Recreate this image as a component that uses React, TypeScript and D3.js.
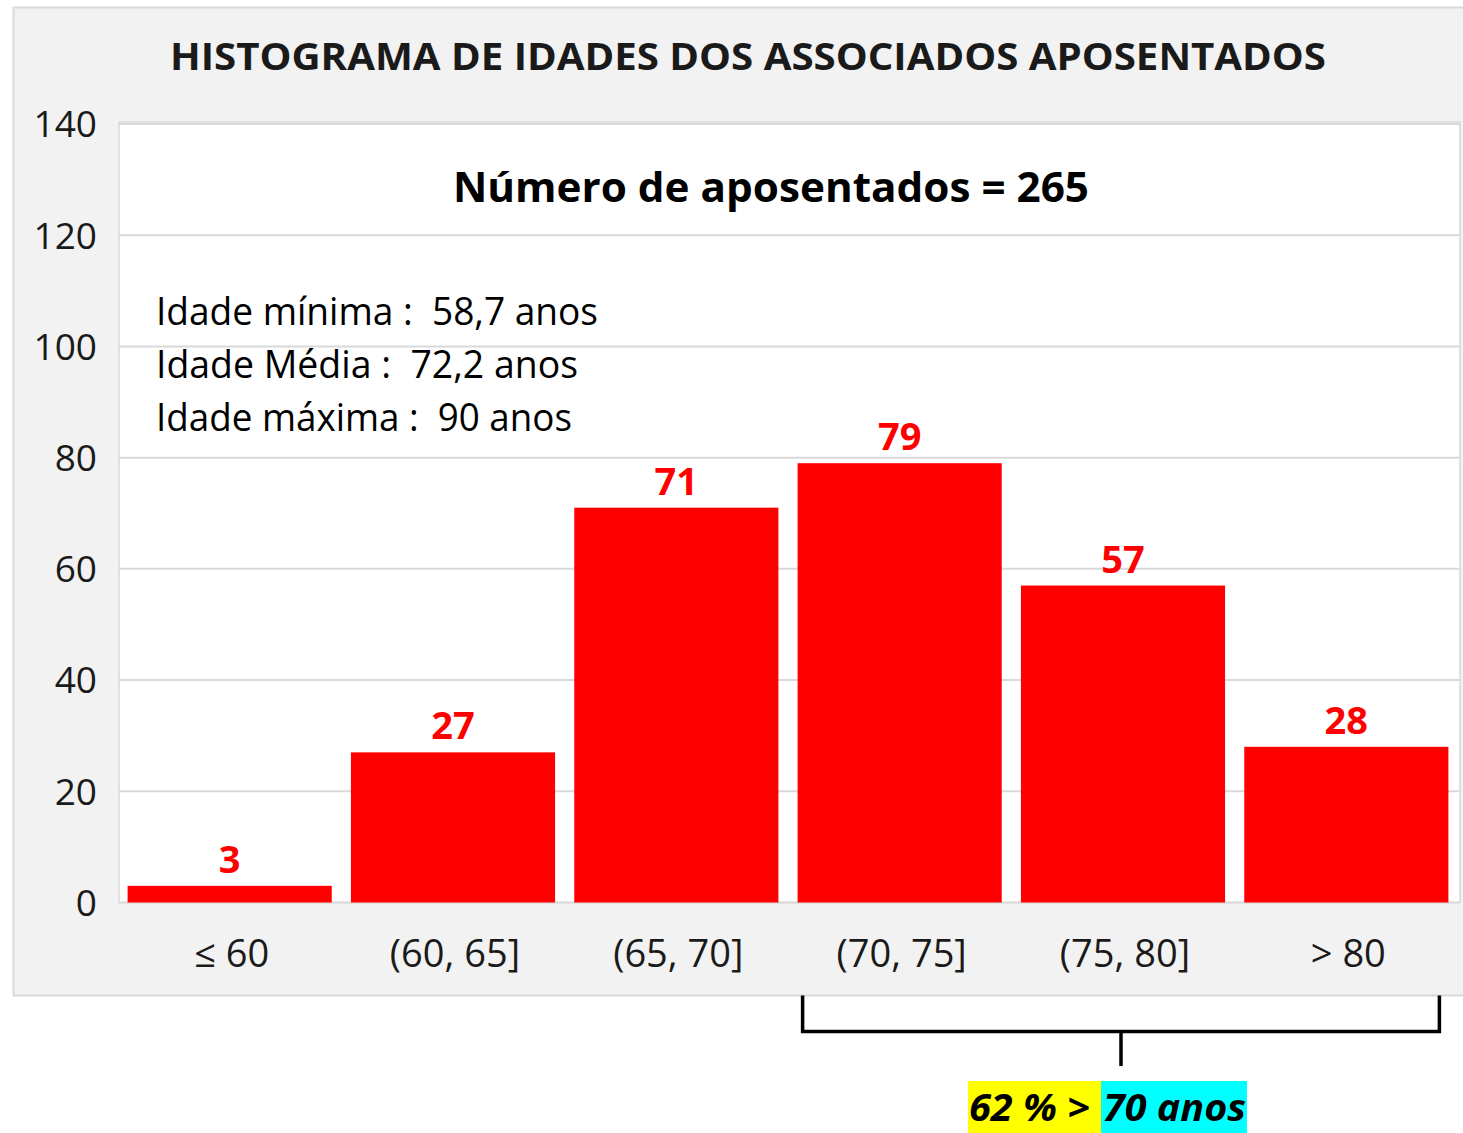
import React from "react";
import * as d3 from "d3";

const categories = ["≤ 60", "(60, 65]", "(65, 70]", "(70, 75]", "(75, 80]", "> 80"];
const counts = [3, 27, 71, 79, 57, 28];
const yTicks = [0, 20, 40, 60, 80, 100, 120, 140];
const title = "HISTOGRAMA DE IDADES DOS ASSOCIADOS APOSENTADOS";
const subtitle = "Número de aposentados = 265";
const infoLines = ["Idade mínima :  58,7 anos", "Idade Média :  72,2 anos", "Idade máxima :  90 anos"];
const infoWidths = [442, 422, 416];
const noteLeft = "62 % >";
const noteRight = "70 anos";

const W = 1463;
const H = 1133;
const FONT = "'Open Sans', 'Noto Sans', sans-serif";

export default function App() {
  const plot = { left: 119, right: 1460, top: 124, bottom: 902.5 };
  const x = d3
    .scaleBand<string>()
    .domain(categories)
    .range([plot.left - 1, plot.right - 2])
    .paddingInner(0.086)
    .paddingOuter(0.043);
  const y = d3.scaleLinear().domain([0, 140]).range([plot.bottom, plot.top]);

  const bx0 = (x(categories[3]) as number) + 5;
  const bx1 = (x(categories[5]) as number) + x.bandwidth() - 9;
  const bmid = (bx0 + bx1) / 2;
  const boxBottom = 995.5;
  const bracketY = 1031.5;

  return (
    <svg
      width={W}
      height={H}
      style={{ position: "absolute", left: 0, top: 0, background: "#fff" }}
      fontFamily={FONT}
    >
      {/* outer chart area */}
      <rect x={13.5} y={7.5} width={W} height={boxBottom - 7.5} fill="#f2f2f2" stroke="#d9d9d9" strokeWidth={2} />
      {/* plot area */}
      <rect
        x={plot.left}
        y={122}
        width={plot.right - plot.left}
        height={plot.bottom - 122}
        fill="#ffffff"
        stroke="#d9d9d9"
        strokeWidth={1.5}
      />
      {/* gridlines */}
      {yTicks.map((t) => (
        <line key={t} x1={plot.left} x2={plot.right} y1={y(t)} y2={y(t)} stroke="#d9d9d9" strokeWidth={2} />
      ))}
      {/* y tick labels */}
      {yTicks.map((t) => (
        <text key={"l" + t} x={97} y={y(t)} dy="0.36em" textAnchor="end" fontSize={37} fill="#1a1a1a">
          {t}
        </text>
      ))}
      {/* title */}
      <text x={748} y={70} textAnchor="middle" fontSize={37} fontWeight={700} fill="#1a1a1a" textLength={1156} lengthAdjust="spacingAndGlyphs">
        {title}
      </text>
      <text x={771} y={202} textAnchor="middle" fontSize={41} fontWeight={700} fill="#000" textLength={636} lengthAdjust="spacingAndGlyphs">
        {subtitle}
      </text>
      {infoLines.map((s, i) => (
        <text
          key={s}
          x={156}
          y={325 + i * 53}
          fontSize={38}
          fill="#000"
          style={{ whiteSpace: "pre" }}
          textLength={infoWidths[i]}
          lengthAdjust="spacingAndGlyphs"
        >
          {s}
        </text>
      ))}
      {/* bars */}
      {categories.map((c, i) => (
        <rect key={c} x={x(c)} y={y(counts[i])} width={x.bandwidth()} height={y(0) - y(counts[i])} fill="#ff0000" />
      ))}
      {/* value labels */}
      {categories.map((c, i) => (
        <text
          key={"v" + c}
          x={(x(c) as number) + x.bandwidth() / 2}
          y={y(counts[i]) - 13}
          textAnchor="middle"
          fontSize={38}
          fontWeight={700}
          fill="#ff0000"
        >
          {counts[i]}
        </text>
      ))}
      {/* category labels */}
      {categories.map((c) => (
        <text key={"c" + c} x={(x(c) as number) + x.bandwidth() / 2 + 2} y={967} textAnchor="middle" fontSize={38} fill="#1a1a1a">
          {c}
        </text>
      ))}
      {/* bracket */}
      <path
        d={`M${bx0},${boxBottom} V${bracketY} H${bx1} V${boxBottom}`}
        fill="none"
        stroke="#000"
        strokeWidth={3.5}
      />
      <line x1={bmid} x2={bmid} y1={bracketY} y2={1066} stroke="#000" strokeWidth={3.5} />
      {/* note */}
      <rect x={968} y={1081} width={133} height={52} fill="#ffff00" />
      <rect x={1101} y={1081} width={146} height={52} fill="#00ffff" />
      <text x={969} y={1121} fontSize={38} fontWeight={700} fontStyle="italic" fill="#000" textLength={121} lengthAdjust="spacingAndGlyphs">
        {noteLeft}
      </text>
      <text x={1103} y={1121} fontSize={38} fontWeight={700} fontStyle="italic" fill="#000" textLength={143} lengthAdjust="spacingAndGlyphs">
        {noteRight}
      </text>
    </svg>
  );
}
